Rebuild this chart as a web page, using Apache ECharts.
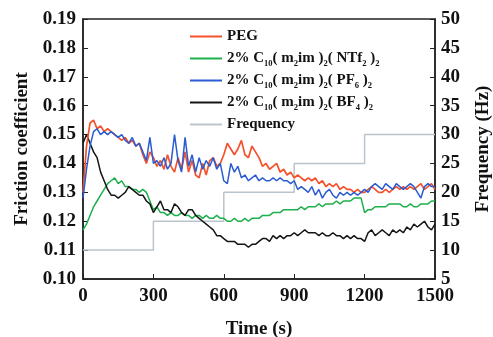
<!DOCTYPE html>
<html>
<head>
<meta charset="utf-8">
<script src="https://cdn.jsdelivr.net/npm/echarts@6/dist/echarts.min.js"></script>
<style>
  html, body { margin: 0; padding: 0; background: #fff; }
  #chart { width: 493px; height: 337px; }
</style>
</head>
<body>
<div id="chart"></div>
<script>
// time axis (s), 15 s step
const time = [];
for (let t = 0; t <= 1500; t += 15) time.push(t);

const pegVals = [0.130,0.146,0.154,0.155,0.152,0.153,0.151,0.152,0.151,0.150,
  0.149,0.148,0.149,0.147,0.148,0.146,0.147,0.143,0.140,0.144,
  0.142,0.139,0.141,0.138,0.143,0.139,0.137,0.142,0.138,0.144,
  0.137,0.141,0.136,0.135,0.140,0.136,0.141,0.142,0.139,0.140,
  0.143,0.147,0.145,0.143,0.145,0.148,0.143,0.142,0.146,0.144,
  0.142,0.139,0.140,0.138,0.139,0.140,0.137,0.138,0.136,0.137,
  0.135,0.136,0.135,0.134,0.135,0.134,0.135,0.133,0.134,0.132,
  0.133,0.132,0.133,0.131,0.132,0.131,0.131,0.130,0.131,0.130,
  0.130,0.131,0.132,0.131,0.130,0.130,0.131,0.130,0.131,0.132,
  0.131,0.132,0.131,0.132,0.131,0.132,0.133,0.131,0.132,0.133,0.131];

const pf6Vals = [0.128,0.138,0.146,0.151,0.152,0.150,0.151,0.150,0.151,0.150,
  0.149,0.150,0.148,0.147,0.149,0.146,0.147,0.144,0.141,0.149,
  0.140,0.141,0.139,0.142,0.138,0.140,0.150,0.141,0.137,0.149,
  0.139,0.143,0.137,0.142,0.138,0.141,0.139,0.142,0.138,0.140,
  0.134,0.133,0.140,0.137,0.139,0.135,0.136,0.134,0.135,0.136,
  0.134,0.135,0.134,0.134,0.135,0.134,0.135,0.134,0.134,0.133,
  0.134,0.131,0.132,0.131,0.130,0.132,0.129,0.131,0.128,0.130,
  0.131,0.129,0.128,0.130,0.129,0.130,0.129,0.130,0.129,0.130,
  0.131,0.130,0.132,0.133,0.132,0.131,0.133,0.132,0.131,0.133,
  0.132,0.131,0.132,0.133,0.132,0.130,0.128,0.132,0.133,0.132,0.132];

const ntf2Vals = [0.117,0.119,0.122,0.125,0.127,0.129,0.131,0.133,0.134,0.135,
  0.133,0.134,0.132,0.132,0.131,0.131,0.130,0.131,0.130,0.127,
  0.124,0.125,0.123,0.123,0.122,0.123,0.122,0.122,0.123,0.122,
  0.122,0.121,0.122,0.122,0.121,0.122,0.121,0.121,0.122,0.121,
  0.121,0.120,0.120,0.121,0.120,0.120,0.121,0.120,0.121,0.121,
  0.121,0.122,0.122,0.122,0.123,0.123,0.123,0.124,0.124,0.124,
  0.124,0.124,0.125,0.124,0.125,0.125,0.125,0.126,0.125,0.126,
  0.126,0.126,0.127,0.126,0.127,0.127,0.127,0.128,0.128,0.128,
  0.123,0.124,0.124,0.125,0.125,0.125,0.125,0.126,0.126,0.126,
  0.126,0.125,0.125,0.126,0.125,0.125,0.126,0.126,0.126,0.127,0.127];

const bf4Vals = [0.147,0.150,0.147,0.144,0.142,0.137,0.134,0.131,0.129,0.129,
  0.128,0.129,0.130,0.132,0.131,0.130,0.129,0.129,0.127,0.126,
  0.123,0.125,0.127,0.124,0.124,0.123,0.126,0.125,0.123,0.122,
  0.124,0.124,0.122,0.121,0.120,0.119,0.118,0.117,0.115,0.115,
  0.114,0.113,0.113,0.113,0.112,0.112,0.112,0.111,0.112,0.112,
  0.113,0.114,0.114,0.113,0.115,0.114,0.115,0.114,0.115,0.115,
  0.116,0.115,0.116,0.117,0.116,0.116,0.116,0.115,0.116,0.115,
  0.115,0.116,0.115,0.115,0.114,0.115,0.114,0.115,0.114,0.114,
  0.113,0.116,0.117,0.115,0.116,0.117,0.116,0.115,0.117,0.116,
  0.117,0.116,0.118,0.117,0.119,0.118,0.119,0.120,0.118,0.117,0.119];

// frequency steps
const freqTime = [0, 300, 300, 600, 600, 900, 900, 1200, 1200, 1500];
const freqHz = [10, 10, 15, 15, 20, 20, 25, 25, 30, 30];

const names = ['PEG', '2% C10(m2im)2(NTf2)2', '2% C10(m2im)2(PF6)2', '2% C10(m2im)2(BF4)2', 'Frequency'];
const labels = {
  'PEG': 'PEG',
  '2% C10(m2im)2(NTf2)2': '2% C{s|10}( m{s|2}im ){s|2}( NTf{s|2} ){s|2}',
  '2% C10(m2im)2(PF6)2': '2% C{s|10}( m{s|2}im ){s|2}( PF{s|6} ){s|2}',
  '2% C10(m2im)2(BF4)2': '2% C{s|10}( m{s|2}im ){s|2}( BF{s|4} ){s|2}',
  'Frequency': 'Frequency'
};

const font = '"Liberation Serif", "Times New Roman", serif';
const zip = (xs, ys) => xs.map((x, i) => [x, ys[i]]);

const chart = echarts.init(document.getElementById('chart'));
const axisLbl = { fontFamily: font, fontWeight: 'bold', fontSize: 19, color: '#111' };
const nameStyle = { fontFamily: font, fontWeight: 'bold', fontSize: 19, color: '#111' };

chart.setOption({
  animation: false,
  backgroundColor: '#fff',
  grid: { left: 83, right: 58, top: 19, bottom: 58, show: true, borderColor: '#222', borderWidth: 1.5,
    containLabel: false, outerBoundsMode: 'none' },
  legend: {
    data: names,
    orient: 'vertical',
    left: 185,
    top: 22,
    itemWidth: 32,
    itemHeight: 10,
    itemGap: 3,
    icon: 'path://M0,4 L32,4 L32,6 L0,6 Z',
    formatter: n => labels[n],
    textStyle: {
      fontFamily: font, fontWeight: 'bold', fontSize: 15, color: '#111', lineHeight: 19,
      rich: { s: { fontFamily: font, fontWeight: 'bold', fontSize: 8.5, verticalAlign: 'bottom', lineHeight: 19, color: '#111' } }
    }
  },
  xAxis: {
    type: 'value', min: 0, max: 1500, interval: 300,
    name: 'Time (s)', nameLocation: 'middle', nameGap: 41, nameTextStyle: nameStyle,
    axisLine: { lineStyle: { color: '#222', width: 1.5 } },
    axisTick: { inside: true, length: 5, lineStyle: { color: '#222' } },
    axisLabel: Object.assign({ margin: 8, formatter: v => String(v) }, axisLbl),
    splitLine: { show: false }
  },
  yAxis: [{
    type: 'value', min: 0.10, max: 0.19, interval: 0.01,
    name: 'Friction coefficient', nameLocation: 'middle', nameRotate: 90, nameGap: 50, nameTextStyle: nameStyle,
    axisLine: { show: true, lineStyle: { color: '#222', width: 1.5 } },
    axisTick: { show: true, inside: true, length: 5, lineStyle: { color: '#222' } },
    axisLabel: Object.assign({ margin: 7, formatter: v => v.toFixed(2) }, axisLbl),
    splitLine: { show: false }
  }, {
    type: 'value', min: 5, max: 50, interval: 5, position: 'right',
    name: 'Frequency (Hz)', nameLocation: 'middle', nameRotate: 90, nameGap: 39, nameTextStyle: nameStyle,
    axisLine: { show: true, lineStyle: { color: '#222', width: 1.5 } },
    axisTick: { show: true, inside: true, length: 5, lineStyle: { color: '#222' } },
    axisLabel: Object.assign({ margin: 6 }, axisLbl),
    splitLine: { show: false }
  }],
  series: [
    { name: 'Frequency', type: 'line', yAxisIndex: 1, data: zip(freqTime, freqHz), showSymbol: false,
      lineStyle: { color: '#b9c4cc', width: 1.5 }, itemStyle: { color: '#b9c4cc' } },
    { name: names[1], type: 'line', data: zip(time, ntf2Vals), showSymbol: false,
      lineStyle: { color: '#1db04c', width: 1.5 }, itemStyle: { color: '#1db04c' } },
    { name: names[3], type: 'line', data: zip(time, bf4Vals), showSymbol: false,
      lineStyle: { color: '#151515', width: 1.5 }, itemStyle: { color: '#151515' } },
    { name: names[0], type: 'line', data: zip(time, pegVals), showSymbol: false,
      lineStyle: { color: '#f4522c', width: 1.7 }, itemStyle: { color: '#f4522c' } },
    { name: names[2], type: 'line', data: zip(time, pf6Vals), showSymbol: false,
      lineStyle: { color: '#2a5bd0', width: 1.5 }, itemStyle: { color: '#2a5bd0' } }
  ]
});
</script>
</body>
</html>
